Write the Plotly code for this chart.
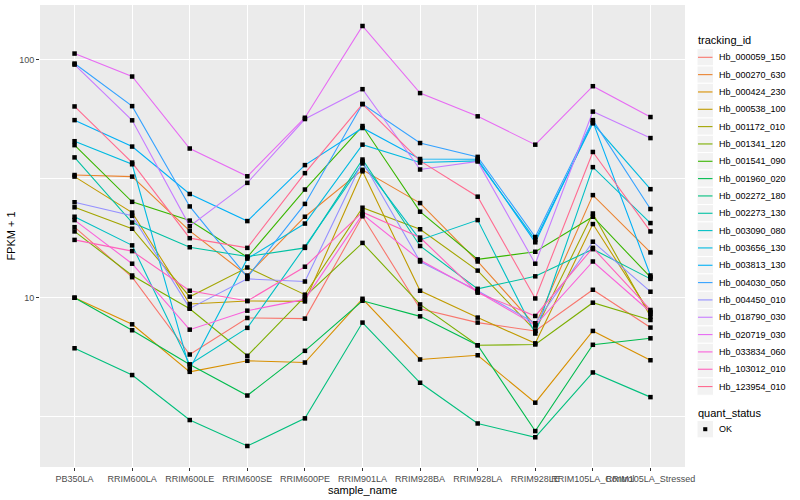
import math
import plotly.graph_objects as go

samples = ["PB350LA", "RRIM600LA", "RRIM600LE", "RRIM600SE", "RRIM600PE", "RRIM901LA",
           "RRIM928BA", "RRIM928LA", "RRIM928LE", "RRIM105LA_Control", "RRIM105LA_Stressed"]

tracking_ids = ["Hb_000059_150", "Hb_000270_630", "Hb_000424_230", "Hb_000538_100", "Hb_001172_010",
                "Hb_001341_120", "Hb_001541_090", "Hb_001960_020", "Hb_002272_180", "Hb_002273_130",
                "Hb_003090_080", "Hb_003656_130", "Hb_003813_130", "Hb_004030_050", "Hb_004450_010",
                "Hb_018790_030", "Hb_020719_030", "Hb_033834_060", "Hb_103012_010", "Hb_123954_010"]

# FPKM + 1 per sample
hb_000059_150 = [19.8, 12.2, 5.77, 8.22, 8.17, 22.0, 8.99, 7.86, 7.25, 10.8, 7.49]
hb_000270_630 = [32.8, 32.3, 19.1, 12.4, 21.9, 34.5, 25.0, 14.2, 7.65, 27.0, 15.5]
hb_000424_230 = [10.0, 7.73, 4.88, 5.43, 5.34, 9.90, 5.50, 5.73, 3.62, 7.25, 5.46]
hb_000538_100 = [32.3, 22.8, 9.41, 9.69, 9.65, 34.0, 10.7, 8.25, 6.43, 20.4, 8.57]
hb_001172_010 = [24.0, 19.5, 10.1, 13.4, 10.3, 23.9, 19.4, 13.0, 7.27, 22.6, 8.33]
hb_001341_120 = [19.0, 12.4, 8.99, 5.70, 10.1, 17.0, 9.37, 6.31, 6.36, 9.53, 8.06]
hb_001541_090 = [43.8, 25.3, 21.1, 14.8, 28.5, 52.7, 23.0, 14.5, 15.6, 21.9, 12.2]
hb_001960_020 = [10.0, 7.30, 5.24, 3.88, 5.98, 9.71, 8.35, 6.31, 2.75, 6.34, 6.75]
hb_002272_180 = [6.13, 4.73, 3.06, 2.38, 3.11, 7.86, 4.39, 2.96, 2.59, 4.85, 3.82]
hb_002273_130 = [38.9, 20.7, 16.3, 14.9, 16.2, 38.1, 16.5, 10.9, 12.3, 16.0, 12.0]
hb_003090_080 = [21.9, 16.6, 5.24, 7.47, 16.4, 36.7, 17.5, 21.2, 7.07, 35.4, 20.6]
hb_003656_130 = [45.5, 36.4, 5.01, 14.6, 20.5, 44.0, 37.0, 37.6, 17.5, 54.1, 28.6]
hb_003813_130 = [55.8, 43.2, 27.3, 21.0, 36.1, 51.7, 38.3, 38.2, 17.1, 55.0, 12.4]
hb_004030_050 = [96.5, 63.9, 24.2, 12.2, 24.8, 65.2, 44.7, 39.1, 18.0, 55.8, 23.6]
hb_004450_010 = [25.2, 22.1, 9.02, 12.0, 11.7, 37.4, 14.2, 10.7, 7.81, 17.2, 10.6]
hb_018790_030 = [95.5, 55.7, 20.0, 30.4, 56.4, 75.3, 34.6, 37.4, 13.9, 60.6, 46.9]
hb_020719_030 = [106.3, 85.1, 42.4, 32.4, 57.1, 138.8, 72.5, 57.9, 44.0, 77.5, 57.5]
hb_033834_060 = [21.2, 13.9, 7.34, 8.82, 9.84, 22.4, 14.4, 10.6, 7.65, 14.2, 8.71]
hb_103012_010 = [17.5, 15.7, 10.7, 9.69, 13.5, 22.9, 17.9, 10.5, 8.38, 16.2, 8.88]
hb_123954_010 = [63.7, 37.0, 17.8, 16.2, 33.4, 65.2, 37.6, 26.6, 9.93, 41.0, 19.0]

series_values = [hb_000059_150, hb_000270_630, hb_000424_230, hb_000538_100, hb_001172_010,
                 hb_001341_120, hb_001541_090, hb_001960_020, hb_002272_180, hb_002273_130,
                 hb_003090_080, hb_003656_130, hb_003813_130, hb_004030_050, hb_004450_010,
                 hb_018790_030, hb_020719_030, hb_033834_060, hb_103012_010, hb_123954_010]

colors = ["#F8766D", "#EA8331", "#D89000", "#C09B00", "#A3A500", "#7CAE00", "#39B600", "#00BB4E",
          "#00BF7D", "#00C1A3", "#00BFC4", "#00BAE0", "#00B0F6", "#35A2FF", "#9590FF", "#C77CFF",
          "#E76BF3", "#FA62DB", "#FF62BC", "#FF6C91"]

quant_status = "OK"

# ---- layout geometry (pixels) ----
W, H = 800, 500
ML, MR, MT, MB = 40, 115, 5, 33
PW, PH = W - ML - MR, H - MT - MB


def px_x(x):
    return (x - ML) / PW


def px_y(y):
    return (H - MB - y) / PH


fig = go.Figure()
for name, vals, col in zip(tracking_ids, series_values, colors):
    fig.add_trace(go.Scatter(x=samples, y=vals, mode="lines", name=name,
                             line=dict(color=col, width=1.1), showlegend=False))

all_x = [s for vals in series_values for s in samples]
all_y = [v for vals in series_values for v in vals]
fig.add_trace(go.Scatter(x=all_x, y=all_y, mode="markers", name=quant_status,
                         marker=dict(symbol="square", size=4.5, color="black"), showlegend=False))

lo = math.log10(min(all_y))
hi = math.log10(max(all_y))
pad = (hi - lo) * 0.05

font_family = "Liberation Sans, Arial, sans-serif"

# ---- manual ggplot-style legends ----
shapes = []
annotations = []
key_x0, key_x1, text_x, title_x = 697, 713.5, 717, 696
first_y, step = 57.3, 17.33
annotations.append(dict(text="tracking_id", xref="paper", yref="paper", x=px_x(title_x), y=px_y(40.5),
                        xanchor="left", yanchor="middle", showarrow=False,
                        font=dict(size=11, color="black", family=font_family)))
for i, (name, col) in enumerate(zip(tracking_ids, colors)):
    yc = first_y + step * i
    shapes.append(dict(type="rect", xref="paper", yref="paper", x0=px_x(key_x0), x1=px_x(key_x1),
                       y0=px_y(yc - step / 2), y1=px_y(yc + step / 2),
                       fillcolor="#F2F2F2", line=dict(color="white", width=1), layer="above"))
    shapes.append(dict(type="line", xref="paper", yref="paper", x0=px_x(key_x0 + 1), x1=px_x(key_x1 - 1),
                       y0=px_y(yc), y1=px_y(yc), line=dict(color=col, width=1.1), layer="above"))
    annotations.append(dict(text=name, xref="paper", yref="paper", x=px_x(text_x), y=px_y(yc),
                            xanchor="left", yanchor="middle", showarrow=False,
                            font=dict(size=9, color="black", family=font_family)))

annotations.append(dict(text="quant_status", xref="paper", yref="paper", x=px_x(title_x), y=px_y(412.7),
                        xanchor="left", yanchor="middle", showarrow=False,
                        font=dict(size=11, color="black", family=font_family)))
ok_y = 429.2
shapes.append(dict(type="rect", xref="paper", yref="paper", x0=px_x(key_x0), x1=px_x(key_x1),
                   y0=px_y(ok_y - step / 2), y1=px_y(ok_y + step / 2),
                   fillcolor="#F2F2F2", line=dict(color="white", width=1), layer="above"))
shapes.append(dict(type="rect", xref="paper", yref="paper", x0=px_x(703.2), x1=px_x(707.3),
                   y0=px_y(ok_y - 2), y1=px_y(ok_y + 2),
                   fillcolor="black", line=dict(width=0), layer="above"))
annotations.append(dict(text=quant_status, xref="paper", yref="paper", x=px_x(text_x), y=px_y(ok_y),
                        xanchor="left", yanchor="middle", showarrow=False,
                        font=dict(size=9, color="black", family=font_family)))

fig.update_layout(
    width=W, height=H,
    margin=dict(l=ML, r=MR, t=MT, b=MB),
    paper_bgcolor="white", plot_bgcolor="#EBEBEB",
    font=dict(family=font_family, size=9, color="#4D4D4D"),
    showlegend=False,
    shapes=shapes, annotations=annotations,
)
fig.update_xaxes(type="category", categoryorder="array", categoryarray=samples,
                 range=[-0.6, len(samples) - 0.4],
                 showgrid=True, gridcolor="white", gridwidth=1.1, zeroline=False,
                 ticks="outside", ticklen=3, tickcolor="#333333", tickwidth=1,
                 tickfont=dict(size=9, color="#4D4D4D"), tickangle=0,
                 title=dict(text="sample_name", font=dict(size=11, color="black"), standoff=1),
                 showline=False)
fig.update_yaxes(type="log", range=[lo - pad, hi + pad],
                 tickvals=[10, 100], ticktext=["10", "100"],
                 showgrid=True, gridcolor="white", gridwidth=1.1, zeroline=False,
                 minor=dict(tickvals=[10 ** 0.5, 10 ** 1.5], showgrid=True, gridcolor="white",
                            gridwidth=0.5, ticks=""),
                 ticks="outside", ticklen=3, tickcolor="#333333", tickwidth=1,
                 tickfont=dict(size=9, color="#4D4D4D"),
                 title=dict(text="FPKM + 1", font=dict(size=11, color="black"), standoff=1),
                 showline=False)

fig.write_html("out.html", config={"displayModeBar": False},
               post_script="document.body.style.margin='0px';")
